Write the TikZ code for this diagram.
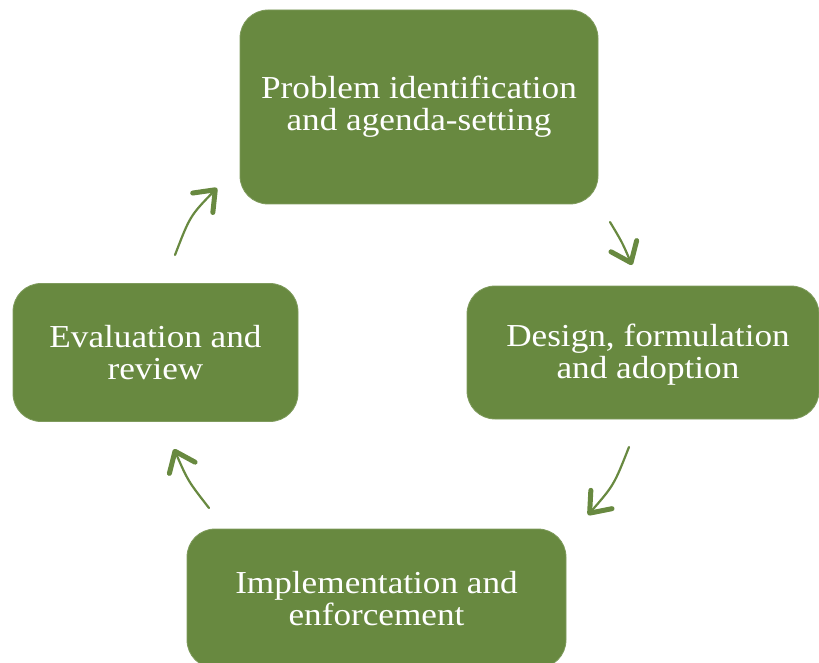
\documentclass[tikz,border=0pt]{standalone}
\usepackage{fontspec}
\setmainfont[FakeStretch=1.1]{Liberation Serif}
\usetikzlibrary{arrows.meta}
\definecolor{leaf}{RGB}{104,137,64}
\tikzset{
  stagebox/.style={rectangle, rounded corners=28pt, fill=leaf, draw=leaf!85!white, line width=0.8pt,
    text=white, align=center, inner sep=0pt,
    font=\fontsize{32}{32}\selectfont},
  flow/.style={draw=leaf, line width=2.2pt, line cap=round,
    -{Straight Barb[length=18pt,width=28pt,line width=5pt,round]}}
}
\begin{document}
\begin{tikzpicture}[x=1pt,y=-1pt]
\useasboundingbox (0,0) rectangle (819,663);
\node[stagebox, minimum width=358pt, minimum height=194pt] (top) at (419,107) {Problem identification\\and agenda-setting};
\node[stagebox, minimum width=352pt, minimum height=133pt] (right) at (643,352.5) {\raisebox{-4pt}[\height][\depth]{\begin{tabular}{@{\hspace{10pt}}c@{}}Design, formulation\\and adoption\end{tabular}}};
\node[stagebox, minimum width=285pt, minimum height=138pt] (left) at (155.5,352.5) {Evaluation and\\review};
\node[stagebox, minimum width=379pt, minimum height=139pt] (bottom) at (376.5,598.5) {Implementation and\\enforcement};
% arrow end points
\coordinate (a1s) at (175,255); \coordinate (a1c) at (190,216); \coordinate (a1e) at (217,188);
\coordinate (a2s) at (610,222); \coordinate (a2c) at (622,242); \coordinate (a2e) at (632,265);
\coordinate (a3s) at (629,447); \coordinate (a3c) at (614,485); \coordinate (a3e) at (588,515);
\coordinate (a4s) at (209,508); \coordinate (a4c) at (188,481); \coordinate (a4e) at (174,449);
\draw[flow] (a1s) .. controls (a1c) .. (a1e);
\draw[flow] (a2s) .. controls (a2c) .. (a2e);
\draw[flow] (a3s) .. controls (a3c) .. (a3e);
\draw[flow] (a4s) .. controls (a4c) .. (a4e);
\end{tikzpicture}
\end{document}
